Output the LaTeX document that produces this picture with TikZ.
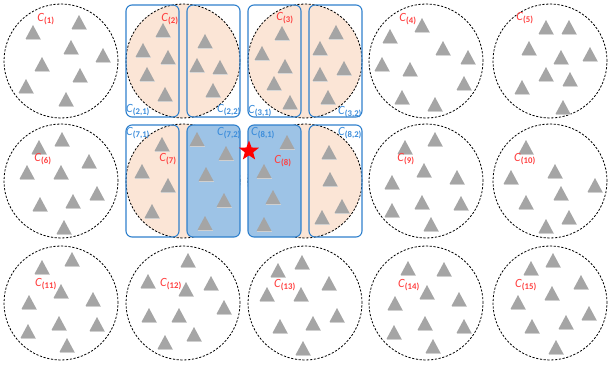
\documentclass[tikz,border=0pt]{standalone}
\usepackage{fontspec}
\setmainfont{Carlito}
\usetikzlibrary{shapes.geometric}
\definecolor{peach}{HTML}{FBE5D6}
\definecolor{boxblue}{HTML}{2F80CC}
\definecolor{textblue}{HTML}{3C8DDB}
\definecolor{fillblue}{HTML}{9DC3E6}
\definecolor{labelred}{HTML}{FF4040}
\definecolor{trigray}{HTML}{A5A5A5}
\definecolor{trishade}{HTML}{D6D6D6}
\newcommand{\clab}[1]{\textit{C}\textsubscript{\textbf{(#1)}}}

\begin{document}
\begin{tikzpicture}[x=1pt, y=-1pt,
            cluster/.style={circle, draw=black, dash pattern=on 2.2pt off 1.6pt, line width=0.8pt, minimum size=114pt, inner sep=0pt},
            merged/.style={cluster, fill=peach},
            part/.style={rectangle, rounded corners=6pt, draw=boxblue, line width=1.1pt, minimum width=53pt, minimum height=112pt, inner sep=0pt},
            partfill/.style={part, fill=fillblue},
            redlab/.style={text=labelred, font=\fontsize{12.5}{14}\selectfont, inner sep=0pt},
            bluelab/.style={text=textblue, font=\fontsize{12.5}{14}\selectfont, inner sep=0pt},
            tri/.pic={\fill[trishade] (-7.5,8.2) -- (7.5,8.2) -- (7.5,7) -- (-7.5,7) -- cycle;
                      \fill[trigray] (-7.5,7) -- (7.5,7) -- (0,-7) -- cycle;}]
            \useasboundingbox (0,0) rectangle (608,369);
            % clusters
            \node[cluster] (c1) at (61,61) {};
            \node[merged] (c2) at (183,61) {};
            \node[merged] (c3) at (305,61) {};
            \node[cluster] (c4) at (426,61) {};
            \node[cluster] (c5) at (550,61) {};
            \node[cluster] (c6) at (61,181) {};
            \node[merged] (c7) at (183,181) {};
            \node[merged] (c8) at (305,181) {};
            \node[cluster] (c9) at (426,181) {};
            \node[cluster] (c10) at (550,181) {};
            \node[cluster] (c11) at (61,303) {};
            \node[cluster] (c12) at (183,303) {};
            \node[cluster] (c13) at (305,303) {};
            \node[cluster] (c14) at (426,303) {};
            \node[cluster] (c15) at (550,303) {};
            \node[partfill] (p72) at (213.5,181) {};
            \node[partfill] (p81) at (274.5,181) {};
            % points
            \foreach \x/\y in {33/32, 79/22, 71/47, 103/55, 42/64, 80/75, 26/86, 66/99,
                163/30, 143/50, 168/57, 147/74, 165/94, 205/41, 197/65, 220/67, 213/90,
                282/33, 262/53, 285/66, 274/83, 290/102, 336/32, 320/48, 344/68, 320/74, 328/97,
                422/25, 390/36, 443/48, 468/57, 382/64, 410/69, 464/83, 402/97, 435/104,
                546/27, 569/27, 529/48, 561/57, 590/54, 546/74, 570/79, 522/87, 563/107,
                62/139, 39/147, 89/161, 27/172, 61/172, 97/193, 73/201, 40/204, 64/227,
                162/144, 142/171, 168/185, 152/211, 197/139, 226/153, 206/174, 224/200, 205/223,
                287/142, 264/171, 273/197, 264/224, 329/152, 330/179, 342/206, 322/217,
                435/139, 405/147, 424/170, 457/177, 392/182, 422/202, 461/203, 392/210, 431/224,
                526/147, 511/177, 555/171, 595/185, 561/193, 526/202, 569/217, 546/226,
                72/259, 42/267, 61/291, 93/299, 29/302, 59/323, 97/324, 28/331, 67/345,
                188/260, 148/281, 211/283, 186/289, 224/307, 149/315, 179/315, 194/334, 165/342,
                302/262, 278/270, 329/283, 267/294, 301/294, 337/315, 313/323, 280/326, 303/348,
                408/268, 444/269, 427/292, 459/299, 395/303, 425/323, 464/326, 394/332, 433/346,
                553/260, 531/268, 581/282, 552/293, 518/302, 589/313, 566/322, 532/326, 556/347}
                \pic at (\x,\y) {tri};
            % sub-clusters
            \node[part] (p21) at (152.5,61) {};
            \node[part] (p22) at (213.5,61) {};
            \node[part] (p31) at (274.5,61) {};
            \node[part] (p32) at (335.5,61) {};
            \node[part] (p71) at (152.5,181) {};
            \node[part] (p82) at (335.5,181) {};
            % labels
            \node[redlab] (l1) at (46,19) {\clab{1}};
            \node[redlab] (l2) at (170,19) {\clab{2}};
            \node[redlab] (l3) at (285,18) {\clab{3}};
            \node[redlab] (l4) at (408,19) {\clab{4}};
            \node[redlab] (l5) at (525,18) {\clab{5}};
            \node[redlab] (l6) at (43,159) {\clab{6}};
            \node[redlab] (l7) at (168,159) {\clab{7}};
            \node[redlab] (l8) at (283,161) {\clab{8}};
            \node[redlab] (l9) at (406,159) {\clab{9}};
            \node[redlab] (l10) at (525,159) {\clab{10}};
            \node[redlab] (l11) at (46,284) {\clab{11}};
            \node[redlab] (l12) at (171,284) {\clab{12}};
            \node[redlab] (l13) at (285,285) {\clab{13}};
            \node[redlab] (l14) at (409,285) {\clab{14}};
            \node[redlab] (l15) at (526,285) {\clab{15}};
            \node[bluelab] (l21) at (138,110) {\clab{2,1}};
            \node[bluelab] (l22) at (229,110) {\clab{2,2}};
            \node[bluelab] (l31) at (260,111) {\clab{3,1}};
            \node[bluelab] (l32) at (350,112) {\clab{3,2}};
            \node[bluelab] (l71) at (138,133) {\clab{7,1}};
            \node[bluelab] (l72) at (229,133) {\clab{7,2}};
            \node[bluelab] (l81) at (263,133) {\clab{8,1}};
            \node[bluelab] (l82) at (350,133) {\clab{8,2}};
            \node[star, star points=5, star point ratio=2.4, fill=red, minimum size=21pt, inner sep=0pt] (seed) at (249,151) {};
        \end{tikzpicture}
\end{document}
